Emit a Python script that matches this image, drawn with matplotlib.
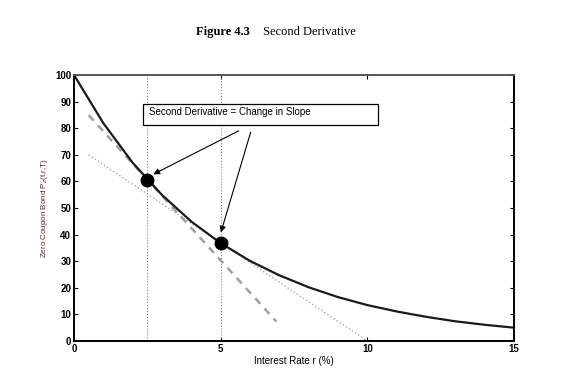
import numpy as np
import matplotlib
matplotlib.use('Agg')
import matplotlib.pyplot as plt
from matplotlib.patches import Rectangle

# ****** Data ******
rate = [0, 1, 2, 3, 4, 5, 6, 7, 8, 9, 10, 11, 12, 13, 14, 15]
price = [100, 81.9, 67.0, 54.9, 44.9, 36.8, 30.1, 24.7, 20.2, 16.5, 13.5, 11.1, 9.1, 7.4, 6.1, 5.0]

tangent_x = [0.5, 6.9]
tangent_y = [84.9, 7.3]
chord_x = [0.5, 10.0]
chord_y = [70.0, 0.0]

point_x = [2.5, 5.0]
point_y = [60.65, 36.8]

note = 'Second Derivative = Change in Slope'

plt.rcParams['font.family'] = ['Liberation Sans', 'DejaVu Sans']

fig = plt.figure(figsize=(5.7, 3.81), dpi=100)
ax = fig.add_axes([74 / 570, 1 - 341 / 381, 440 / 570, 266 / 381])

# vertical guides at the two points
for xv in point_x:
    ax.plot([xv, xv], [0, 100], color='gray', linestyle=':', linewidth=0.8)

ax.plot(chord_x, chord_y, color='darkgray', linestyle=':', linewidth=1.0)
ax.plot(tangent_x, tangent_y, color='#a0a0a0', linestyle=(0, (3, 2.5)), linewidth=1.8)
ax.plot(rate, price, color='#1a1a1a', linewidth=1.6)
ax.plot(point_x, point_y, 'o', color='black', markersize=9)

# annotation box and arrows
ax.add_patch(Rectangle((2.35, 81.2), 8.0, 7.9, facecolor='white', edgecolor='black',
                       linewidth=0.9, zorder=4))
ax.text(2.55, 86.0, note, fontsize=7, va='center', ha='left', zorder=5)
ax.annotate('', xy=(2.62, 62.2), xytext=(5.7, 79.5),
            arrowprops=dict(arrowstyle='-|>', color='black', lw=0.8, mutation_scale=9))
ax.annotate('', xy=(4.98, 39.8), xytext=(6.05, 79.5),
            arrowprops=dict(arrowstyle='-|>', color='black', lw=0.8, mutation_scale=9))

ax.set_xlim(0, 15)
ax.set_ylim(0, 100)
ax.set_xticks([0, 5, 10, 15])
ax.set_yticks(np.arange(0, 101, 10))
ax.tick_params(direction='in', top=True, right=True, labelsize=7, length=3, width=0.8, pad=2)
for lab in ax.get_xticklabels() + ax.get_yticklabels():
    lab.set_fontweight('bold')
for sp in ax.spines.values():
    sp.set_linewidth(1.4)
ax.spines['top'].set_color('#555555')

ax.set_xlabel('Interest Rate r (%)', fontsize=7, labelpad=1.5)
ax.set_ylabel(r'Zero Coupon Bond P$_z$(t,r,T)', fontsize=5.8, color='#7a1f10', labelpad=4)

fig.text(250 / 570, 0.916, 'Figure 4.3', fontsize=9, fontweight='bold', ha='right', va='center',
         family=['Liberation Serif', 'DejaVu Serif'])
fig.text(263 / 570, 0.916, 'Second Derivative', fontsize=9, ha='left', va='center',
         family=['Liberation Serif', 'DejaVu Serif'])

fig.savefig('out.png', dpi=100)
